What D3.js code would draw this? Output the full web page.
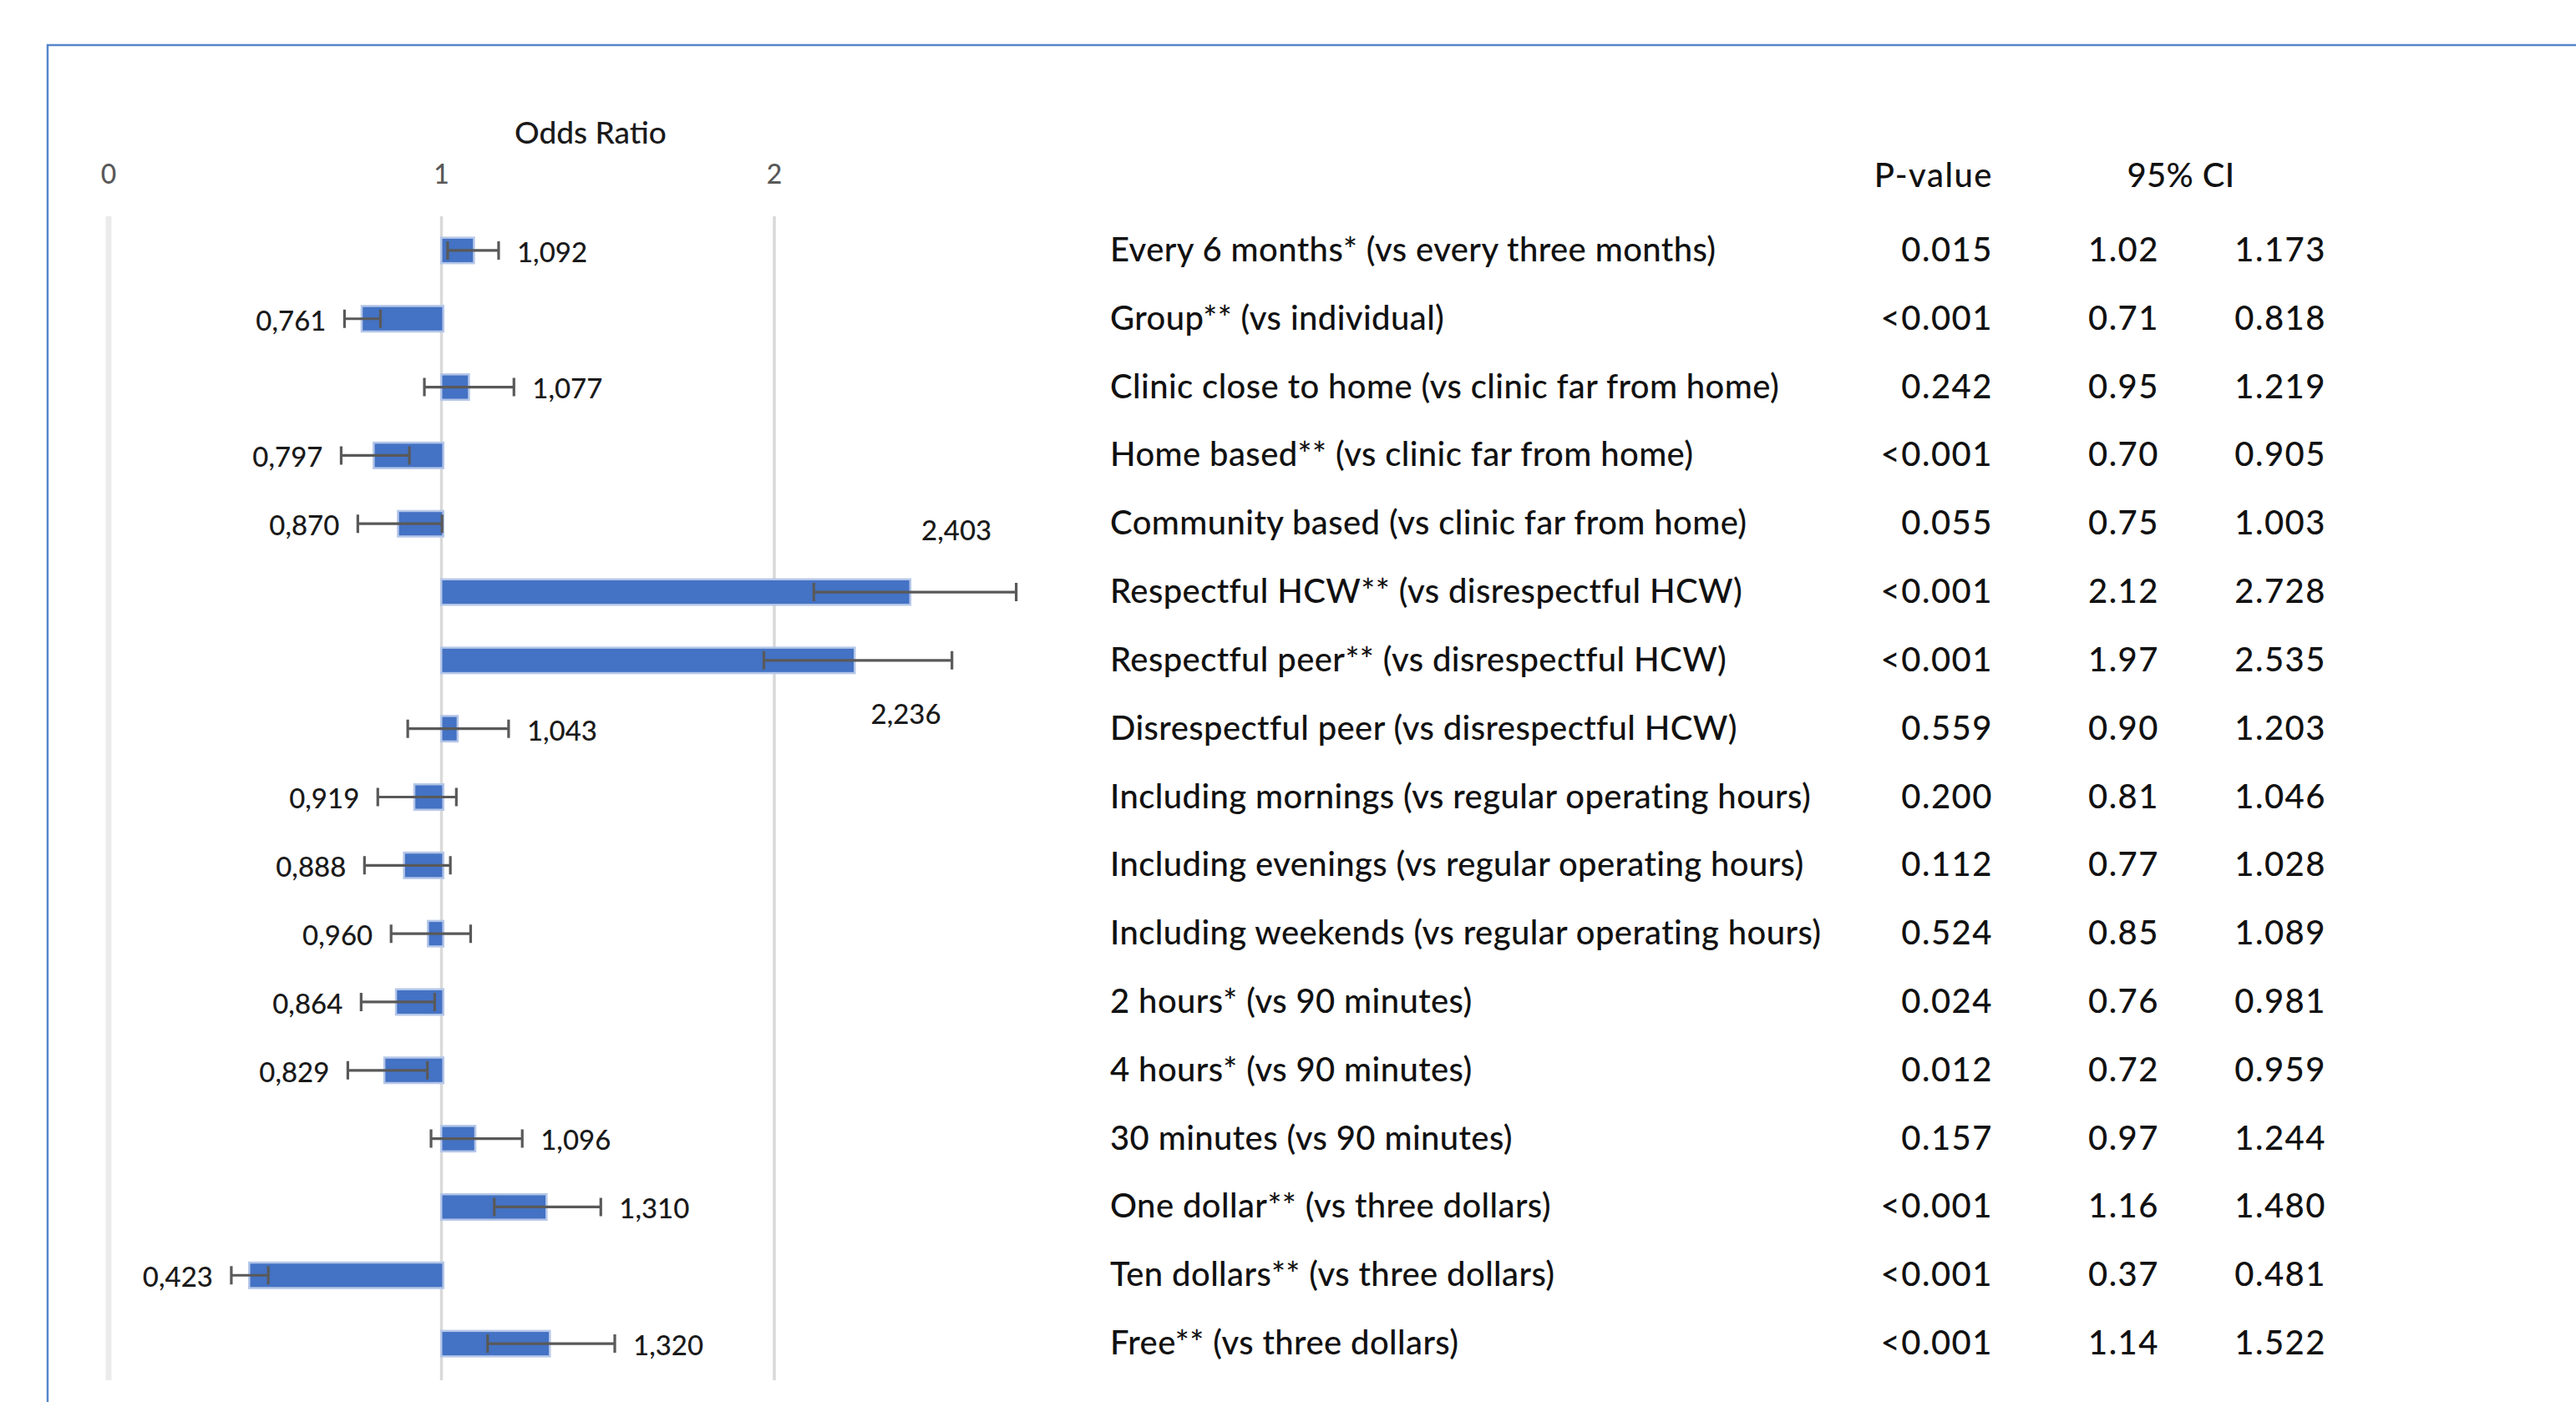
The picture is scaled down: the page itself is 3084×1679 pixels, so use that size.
<!DOCTYPE html>
<html>
<head>
<meta charset="utf-8">
<script src="https://cdn.jsdelivr.net/npm/d3@7"></script>
<style>
  html, body { margin: 0; padding: 0; background: #fff; }
  svg { display: block; font-family: Lato, "Open Sans", sans-serif; font-weight: 500; }
</style>
</head>
<body>
<div id="chart"></div>
<script>
// Attributes, in display order (top to bottom)
const categories = [
    "Every 6 months* (vs every three months)",
    "Group** (vs individual)",
    "Clinic close to home (vs clinic far from home)",
    "Home based** (vs clinic far from home)",
    "Community based (vs clinic far from home)",
    "Respectful HCW** (vs disrespectful HCW)",
    "Respectful peer** (vs disrespectful HCW)",
    "Disrespectful peer (vs disrespectful HCW)",
    "Including mornings (vs regular operating hours)",
    "Including evenings (vs regular operating hours)",
    "Including weekends (vs regular operating hours)",
    "2 hours* (vs 90 minutes)",
    "4 hours* (vs 90 minutes)",
    "30 minutes (vs 90 minutes)",
    "One dollar** (vs three dollars)",
    "Ten dollars** (vs three dollars)",
    "Free** (vs three dollars)"
];

const oddsRatios = [1.092, 0.761, 1.077, 0.797, 0.870, 2.403, 2.236, 1.043, 0.919, 0.888, 0.960, 0.864, 0.829, 1.096, 1.310, 0.423, 1.320];

const pValues = ["0.015", "<0.001", "0.242", "<0.001", "0.055", "<0.001", "<0.001", "0.559", "0.200", "0.112", "0.524", "0.024", "0.012", "0.157", "<0.001", "<0.001", "<0.001"];

const ciLow = [1.02, 0.71, 0.95, 0.70, 0.75, 2.12, 1.97, 0.90, 0.81, 0.77, 0.85, 0.76, 0.72, 0.97, 1.16, 0.37, 1.14];
const ciHigh = [1.173, 0.818, 1.219, 0.905, 1.003, 2.728, 2.535, 1.203, 1.046, 1.028, 1.089, 0.981, 0.959, 1.244, 1.480, 0.481, 1.522];

const xTicks = [0, 1, 2];
const axisTitle = "Odds Ratio";
const tableHeaders = { p: "P-value", ci: "95% CI" };

const rows = categories.map((c, i) => ({
    name: c, or: oddsRatios[i], p: pValues[i], lo: ciLow[i], hi: ciHigh[i], i
}));

const width = 3084, height = 1679;
const plotTop = 259, plotBottom = 1653;

const svg = d3.select("#chart")
    .append("svg")
    .attr("width", width)
    .attr("height", height);

// Frame (top and left edges of the chart box)
svg.append("path")
    .attr("d", `M57,${height} L57,54 L${width},54`)
    .attr("fill", "none")
    .attr("stroke", "#5686c9")
    .attr("stroke-width", 2.5);

// Scales
const xScale = d3.scaleLinear().domain([0, 2]).range([129.5, 926.5]);
const yScale = d3.scaleBand().domain(categories).range([plotTop, 1650]).paddingInner(0.64).paddingOuter(0.32);
const rowY = d => yScale(d.name) + yScale.bandwidth() / 2;

// Gridlines + tick labels
const xAxis = d3.axisTop(xScale)
    .tickValues(xTicks)
    .tickSize(-(plotBottom - plotTop))
    .tickPadding(39)
    .tickFormat(d3.format("d"));

const axisG = svg.append("g")
    .attr("transform", `translate(0, ${plotTop})`)
    .call(xAxis);

axisG.select(".domain").remove();
axisG.selectAll(".tick line")
    .attr("stroke", d => d === 0 ? "#ebebeb" : "#d9d9d9")
    .attr("stroke-width", d => d === 0 ? 7 : 3.5);
axisG.selectAll(".tick text")
    .attr("fill", "#595959")
    .style("font-size", "32px")
    .style("font-family", "Lato, sans-serif");

// Axis title
svg.append("text")
    .attr("x", 707)
    .attr("y", 159)
    .attr("dy", "0.35em")
    .attr("text-anchor", "middle")
    .style("font-size", "37px")
    .attr("fill", "#1a1a1a")
    .text(axisTitle);

// Bars (from OR = 1)
svg.append("g")
    .selectAll("rect")
    .data(rows)
    .join("rect")
    .attr("x", d => Math.min(xScale(1), xScale(d.or)) + 1.5)
    .attr("width", d => Math.abs(xScale(d.or) - xScale(1)))
    .attr("y", d => rowY(d) - 14)
    .attr("height", 28)
    .attr("fill", "#4472c4")
    .attr("stroke", "#b4c6e8")
    .attr("stroke-width", 5)
    .style("paint-order", "stroke");

// Error bars = 95% CI
const eb = svg.append("g")
    .attr("stroke", "#595959")
    .attr("stroke-width", 3.2);

eb.selectAll("line.whisker")
    .data(rows)
    .join("line")
    .attr("class", "whisker")
    .attr("x1", d => xScale(d.lo))
    .attr("x2", d => xScale(d.hi))
    .attr("y1", rowY)
    .attr("y2", rowY);

eb.selectAll("path.cap")
    .data(rows)
    .join("path")
    .attr("class", "cap")
    .attr("fill", "none")
    .attr("d", d => {
        const y = rowY(d);
        return `M${xScale(d.lo)},${y - 11}V${y + 11}M${xScale(d.hi)},${y - 11}V${y + 11}`;
    });

// Data labels (comma decimal, as in source)
const fmtLabel = v => d3.format(".3f")(v).replace(".", ",");
const labelNudge = { 5: { dx: 16, dy: -74 }, 6: { dx: 22, dy: 64 } }; // two big bars were moved by hand

svg.append("g")
    .selectAll("text")
    .data(rows)
    .join("text")
    .style("font-size", "33px")
    .attr("fill", "#1a1a1a")
    .attr("dy", "0.36em")
    .each(function (d) {
        const t = d3.select(this);
        const n = labelNudge[d.i];
        if (n) {
            t.attr("x", xScale(d.or) + n.dx).attr("y", rowY(d) + n.dy).attr("text-anchor", "start");
        } else if (d.or >= 1) {
            t.attr("x", xScale(d.hi) + 22).attr("y", rowY(d) + 2).attr("text-anchor", "start");
        } else {
            t.attr("x", xScale(d.lo) - 22).attr("y", rowY(d) + 2).attr("text-anchor", "end");
        }
    })
    .text(d => fmtLabel(d.or));

// Table on the right
const colName = 1329, colP = 2386, colLo = 2585, colHi = 2785;
const fmtLo = d3.format(".2f"), fmtHi = d3.format(".3f");

const table = svg.append("g")
    .style("font-size", "40px")
    .style("letter-spacing", "0.4px")
    .attr("fill", "#111");

table.append("text")
    .attr("x", colP).attr("y", 210).attr("dy", "0.35em")
    .attr("text-anchor", "end")
    .style("letter-spacing", "1.5px")
    .text(tableHeaders.p);

table.append("text")
    .attr("x", 2611).attr("y", 210).attr("dy", "0.35em")
    .attr("text-anchor", "middle")
    .text(tableHeaders.ci);

const tr = table.selectAll("g.row")
    .data(rows)
    .join("g")
    .attr("class", "row")
    .attr("transform", d => `translate(0, ${rowY(d) - 1})`);

tr.append("text").attr("x", colName).attr("dy", "0.35em").text(d => d.name);
tr.append("text").attr("x", colP).attr("dy", "0.35em").attr("text-anchor", "end").style("letter-spacing", "1.5px").text(d => d.p);
tr.append("text").attr("x", colLo).attr("dy", "0.35em").attr("text-anchor", "end").style("letter-spacing", "1.5px").text(d => fmtLo(d.lo));
tr.append("text").attr("x", colHi).attr("dy", "0.35em").attr("text-anchor", "end").style("letter-spacing", "1.5px").text(d => fmtHi(d.hi));
</script>
</body>
</html>
